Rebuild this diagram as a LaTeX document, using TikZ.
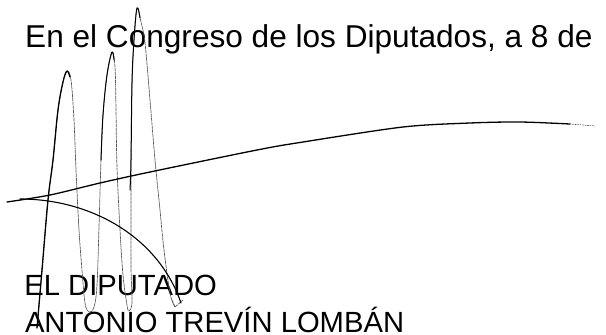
\documentclass[tikz,border=0pt]{standalone}
\usepackage{fontspec}
\setmainfont{Liberation Sans}
\begin{document}
\begin{tikzpicture}[x=1pt,y=-1pt,
  txt/.style={inner sep=0pt,outer sep=0pt,anchor=base west,text depth=0pt,font=\fontsize{29.2}{30}\selectfont},
  ink/.style={line width=1.3pt,line cap=round,line join=round},
  faint/.style={line width=0.7pt,black!65,dash pattern=on 3pt off 1pt,line cap=round}]
\useasboundingbox (0,0) rectangle (606,335);
% texts
\node[txt,font=\fontsize{31.6}{33}\selectfont] (fecha) at (25.2,47.7) {En el Congreso de los Diputados, a 8 de};
\node[txt] (cargo) at (24.4,295.5) {EL DIPUTADO};
\node[txt] (nombre) at (25,332.5) {ANTONIO TREVÍN LOMBÁN};
% signature loops (faint full stroke)
\draw[faint] plot[smooth,tension=0.6] coordinates {
 (37,328) (42,270) (48,200) (53,160) (58,110) (63,82) (67,71) (71,80) (74,120)
 (76,170) (79,230) (82,270) (85,303) (89,312) (94,307) (97,285) (99,227) (101,160)
 (103,115) (107,75) (112,52) (115,67) (116,110) (117,167) (120,230) (123,275)
 (127,305) (129,311) (132,302) (131,267) (131,200) (131,160) (132,83) (134,40)
 (137,8) (141,22) (145,43) (150,100) (155,160) (160,210) (164,250) (170,293) (175,307)};
\draw[faint] (172,300) -- (175,307) -- (183,300);
% darker parts of the loops
\draw[ink] plot[smooth,tension=0.6] coordinates {
 (37,328) (42,270) (48,200) (53,160) (58,110) (63,82) (67,71) (70,77)};
\draw[ink,line width=1pt] plot[smooth,tension=0.6] coordinates {
 (101,160) (103,115) (107,75) (112,52) (114,60)};
\draw[ink,line width=1pt] plot[smooth,tension=0.6] coordinates {
 (130,190) (131,160) (132,83) (134,40) (137,8) (140,18)};
% long rising stroke
\draw[ink] plot[smooth,tension=0.5] coordinates {
 (7,202) (50,195) (100,183) (150,172) (257,150) (303,142) (403,127) (470,123) (520,122) (570,124)};
\draw[faint,dash pattern=on 1pt off 1.5pt] (570,124) -- (595,126);
% falling stroke
\draw[ink,line width=1.1pt] (20,199) .. controls (90,199) and (158,236) .. (181,303);
\end{tikzpicture}
\end{document}
